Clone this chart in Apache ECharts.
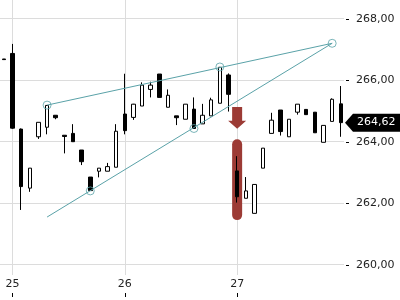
<!DOCTYPE html>
<html><head><meta charset="utf-8">
<script src="https://cdn.jsdelivr.net/npm/echarts@6/dist/echarts.min.js"></script>
<style>html,body{margin:0;padding:0;background:#fff}#c{width:400px;height:300px}</style>
</head><body><div id="c"></div>
<script>
const idx = [0,1,2,3,4,5,6,7,8,9,10,11,12,13,14,15,16,17,18,19,20,21,22,23,24,25,26,27,28,29,30,31,32,33,34,35,36,37,38,39];
const opens  = [266.69,266.87,264.41,262.49,264.16,264.47,264.86,264.21,264.27,263.73,262.85,263.04,263.04,263.17,264.90,264.79,265.16,265.70,266.20,265.12,264.84,264.73,265.06,264.58,264.84,265.25,266.17,263.05,262.16,261.67,263.14,264.27,265.03,264.16,264.96,265.05,264.96,263.98,264.66,265.23];
const closes = [266.67,264.44,262.54,263.14,264.63,265.18,264.78,264.17,264.00,263.35,262.41,263.14,263.19,264.34,264.36,265.22,265.84,265.84,265.44,265.51,264.78,265.22,264.43,264.86,265.36,266.42,265.54,262.21,262.40,262.61,263.79,264.70,264.33,264.73,265.22,264.88,264.29,264.53,265.38,264.62];
const lows   = [266.67,264.42,261.78,262.37,264.09,264.24,264.73,263.62,264.00,263.24,262.40,262.84,263.04,263.17,264.24,264.71,265.16,265.44,265.44,265.12,264.54,264.73,264.42,264.58,264.84,265.25,264.98,262.02,262.16,261.67,263.14,264.27,264.20,264.16,264.88,264.88,264.29,263.98,264.66,264.16];
const highs  = [266.69,267.18,264.43,263.14,264.63,265.19,264.86,264.21,264.57,263.73,262.85,263.14,263.31,264.57,266.21,265.23,265.93,265.95,266.20,265.70,264.84,265.22,265.44,265.23,265.43,266.43,266.22,263.53,262.85,262.61,263.79,264.94,265.03,264.73,265.22,265.05,264.96,264.53,265.41,265.81];
const dayIdx = [1,14,27];
const dayLabels = ['25','26','27'];
const yTicks = [260,262,264,266,268];
const upperLine = [[5,265.19],[38,267.2]];
const lowerLine = [[5,261.55],[38,267.2]];
const pivots = [[5,265.19],[10,262.40],[22,264.43],[25,266.43],[38,267.2]];
const signalArrow = [[27,265.13,264.68,264.42]];
const signalBar = [[27,264.08,261.45]];
const lastPrice = closes[closes.length-1];

const TEAL = '#5aa2a8';
const RED = '#9c3b35';
const GRID = '#dcdcdc';
const FONT = 'DejaVu Sans';
const fmt = v => v.toFixed(2).replace('.', ',');
const X_MAX = 39.37;

const chart = echarts.init(document.getElementById('c'), null, {renderer:'canvas'});
chart.setOption({
  animation:false,
  backgroundColor:'#fff',
  grid:{left:0, right:56, top:0, bottom:25},
  xAxis:[
    {type:'value', min:-0.45, max:X_MAX, axisLine:{show:false},
     axisTick:{show:false, customValues:dayIdx}, axisLabel:{show:false, customValues:dayIdx},
     splitLine:{show:true, lineStyle:{color:GRID, width:1}}},
    {type:'value', min:-0.45, max:X_MAX, position:'bottom', offset:18, axisLine:{show:false},
     axisTick:{show:true, length:4, customValues:dayIdx, lineStyle:{color:'#000'}},
     axisLabel:{inside:true, margin:3, customValues:dayIdx, fontSize:11, color:'#222', fontFamily:FONT,
       formatter: v => dayLabels[dayIdx.indexOf(Math.round(v))]},
     splitLine:{show:false}}
  ],
  yAxis:{type:'value', position:'right', min:259.665, max:268.608, offset:2, axisLine:{show:false},
    axisTick:{show:false, customValues:yTicks},
    axisLabel:{customValues:yTicks, margin:10, fontSize:11, color:'#222', fontFamily:FONT, formatter:fmt},
    splitLine:{show:true, lineStyle:{color:GRID, width:1}}},
  series:[
    {type:'custom', xAxisIndex:0, z:1, data:signalBar, encode:{x:0, y:[1,2]},
     renderItem:(params, api) => {
       const a = api.coord([api.value(0), api.value(1)]);
       const b = api.coord([api.value(0), api.value(2)]);
       return {type:'rect', shape:{x:a[0]-5, y:a[1], width:10, height:b[1]-a[1], r:5}, style:{fill:RED}};
     }},
    {type:'custom', xAxisIndex:0, z:1, data:signalArrow, encode:{x:0, y:[1,2,3]},
     renderItem:(params, api) => {
       const t = api.coord([api.value(0), api.value(1)]);
       const n = api.coord([api.value(0), api.value(2)]);
       const p = api.coord([api.value(0), api.value(3)]);
       const x = t[0];
       return {type:'polygon', shape:{points:[[x-5,t[1]],[x+5,t[1]],[x+5,n[1]],[x+9,n[1]],[x,p[1]],[x-9,n[1]],[x-5,n[1]]]}, style:{fill:RED}};
     }},
    {type:'custom', xAxisIndex:0, z:2, clip:false, silent:true, data:yTicks.map(v => [X_MAX, v]), encode:{x:0, y:1},
     renderItem:(params, api) => {
       const p = api.coord([api.value(0), api.value(1)]);
       const y = Math.round(p[1]) + 0.5;
       return {type:'line', shape:{x1:p[0]+2, y1:y, x2:p[0]+5, y2:y}, style:{stroke:'#000', lineWidth:1}};
     }},
    {type:'candlestick', xAxisIndex:0, z:3, barWidth:4,
     data: idx.map(i => [i, opens[i], closes[i], lows[i], highs[i]]),
     encode:{x:0, y:[1,2,3,4]},
     itemStyle:{color:'#fff', color0:'#000', borderColor:'#000', borderColor0:'#000', borderWidth:1}},
    {type:'line', xAxisIndex:0, z:4, data:upperLine, symbol:'none', lineStyle:{color:TEAL, width:1}},
    {type:'line', xAxisIndex:0, z:4, data:lowerLine, symbol:'none', lineStyle:{color:TEAL, width:1}},
    {type:'scatter', xAxisIndex:0, z:5, data:pivots, symbol:'circle', symbolSize:8,
     itemStyle:{color:'rgba(255,255,255,0)', borderColor:TEAL, borderWidth:1}},
    {type:'custom', xAxisIndex:0, z:6, clip:false, data:[[idx[idx.length-1], lastPrice]], encode:{x:0, y:1},
     renderItem:(params, api) => {
       const p = api.coord([api.value(0), api.value(1)]);
       const cs = params.coordSys;
       const xr = cs.x + cs.width + 1;
       const W = api.getWidth();
       const y = p[1];
       return {type:'group', children:[
         {type:'polygon', shape:{points:[[xr,y],[xr+8,y-9],[W,y-9],[W,y+9],[xr+8,y+9]]}, style:{fill:'#000'}},
         {type:'text', style:{text:fmt(api.value(1)), x:xr+12, y:y, verticalAlign:'middle', fill:'#fff', font:'11px "DejaVu Sans"'}}
       ]};
     }}
  ]
});
</script></body></html>
